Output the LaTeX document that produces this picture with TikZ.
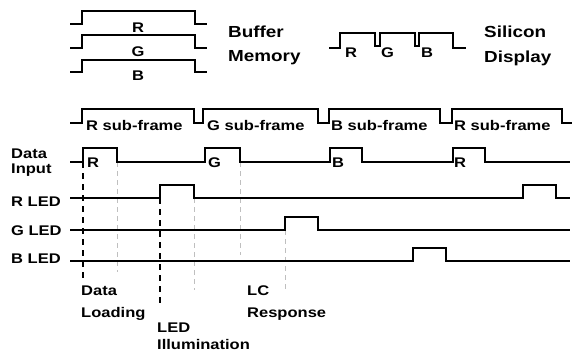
\documentclass[tikz,border=0pt]{standalone}
\usepackage{fontspec}
\setmainfont[FakeStretch=1.18]{Liberation Sans}
\usetikzlibrary{positioning}
\begin{document}
\begin{tikzpicture}[x=1pt,y=-1pt,font=\fontsize{14}{16}\selectfont\bfseries,
  wave/.style={line width=2.6pt,line join=miter},
  guide/.style={black!25,line width=.7pt,dash pattern=on 5pt off 4pt},
  loadline/.style={line width=2.6pt,dash pattern=on 6pt off 5pt},
  txt/.style={anchor=base west,inner sep=0pt},
  big/.style={txt,font=\fontsize{16}{18}\selectfont\bfseries}]
\useasboundingbox (0,0) rectangle (574,357);
\foreach \hi/\lo/\c in {11/24/R,35/48/G,60/72/B}{
  \draw[wave] (70,\lo) -- (82,\lo) -- (82,\hi) -- (195,\hi) -- (195,\lo) -- (207,\lo);
  \node[anchor=base,inner sep=0pt] at (138,\lo+8) {\c};}
\node[big] (buf) at (228,37.5) {Buffer}; \node[big] (mem) at (228,61.5) {Memory};
\draw[wave] (329,48) -- (340,48) -- (340,33) -- (375,33) -- (375,46) -- (380,46) -- (380,33) -- (415,33)
  -- (415,46) -- (419,46) -- (419,33) -- (453,33) -- (453,48) -- (466,48);
\node[txt] (sr) at (345,57) {R}; \node[txt] (sg) at (381,57) {G}; \node[txt] (sb) at (421,57) {B};
\node[big] (sil) at (484,37) {Silicon}; \node[big] (disp) at (484,62) {Display};
\draw[wave] (70,123) -- (82,123) -- (82,109) -- (194,109) -- (194,123) -- (203,123) -- (203,109) -- (318,109)
  -- (318,123) -- (329,123) -- (329,109) -- (440,109) -- (440,123) -- (452,123) -- (452,109) -- (562,109)
  -- (562,123) -- (572,123);
\node[txt] (fr1) at (86,130) {R sub-frame}; \node[txt] (fr2) at (207,130) {G sub-frame};
\node[txt] (fr3) at (331,130) {B sub-frame}; \node[txt] (fr4) at (454,130) {R sub-frame};
\draw[guide] (117,162) -- (117,272); \draw[guide] (194,198) -- (194,290);
\draw[guide] (240,162) -- (240,255); \draw[guide] (285,230) -- (285,290);
\draw[loadline] (83,162) -- (83,278); \draw[loadline] (160,198) -- (160,306);
\draw[wave] (70,162) -- (83,162) -- (83,148) -- (117,148) -- (117,162) -- (205,162) -- (205,148) -- (240,148)
  -- (240,162) -- (330,162) -- (330,148) -- (362,148) -- (362,162) -- (453,162) -- (453,148) -- (485,148)
  -- (485,162) -- (570,162);
\node[txt] (dr) at (87,167) {R}; \node[txt] (dg) at (208,167) {G};
\node[txt] (db) at (332,167) {B}; \node[txt] (dr2) at (454,167) {R};
\draw[wave] (70,198) -- (160,198) -- (160,185) -- (194,185) -- (194,198) -- (523,198) -- (523,185) -- (556,185)
  -- (556,198) -- (570,198);
\draw[wave] (70,230) -- (285,230) -- (285,217) -- (318,217) -- (318,230) -- (570,230);
\draw[wave] (70,261) -- (413,261) -- (413,248) -- (446,248) -- (446,261) -- (570,261);
\node[txt] (din) at (11,158) {Data}; \node[txt] (din2) at (11,173) {Input};
\node[txt] (rled) at (11,206) {R LED}; \node[txt] (gled) at (11,235) {G LED}; \node[txt] (bled) at (11,263) {B LED};
\node[txt] (dl) at (81,295) {Data}; \node[txt] (dl2) at (81,317) {Loading};
\node[txt] (li) at (157,332) {LED}; \node[txt] (li2) at (157,349) {Illumination};
\node[txt] (lc) at (247,295) {LC}; \node[txt] (lc2) at (247,317) {Response};
\end{tikzpicture}
\end{document}
